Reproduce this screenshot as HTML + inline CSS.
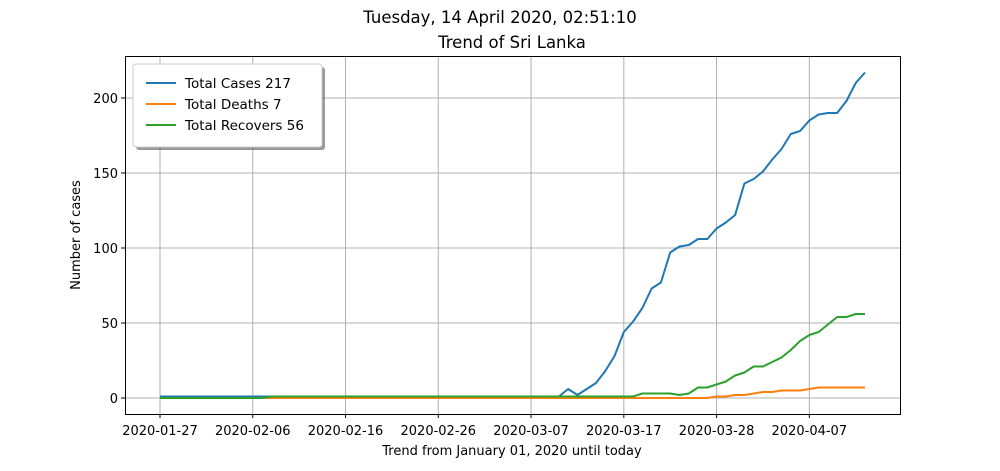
<!DOCTYPE html>
<html><head><meta charset="utf-8"><style>
body{margin:0;background:#fff;font-family:"Liberation Sans","DejaVu Sans",sans-serif;}
svg text{font-family:"DejaVu Sans","Liberation Sans",sans-serif;}
</style></head><body>
<svg id="chart" width="1000" height="466" xmlns="http://www.w3.org/2000/svg">
<text x="500" y="23" text-anchor="middle" font-size="16.5">Tuesday, 14 April 2020, 02:51:10</text>
<text x="512" y="48" text-anchor="middle" font-size="16.5">Trend of Sri Lanka</text>
<g id="grid"></g>
<g id="series"></g>
<rect x="125.5" y="56.5" width="775" height="358" fill="none" stroke="#000" stroke-width="1"/>
<g id="ticks"></g>
<text transform="translate(80,235) rotate(-90)" text-anchor="middle" font-size="13">Number of cases</text>
<text x="512" y="455" text-anchor="middle" font-size="13">Trend from January 01, 2020 until today</text>
<g>
<rect x="136" y="67" width="189" height="83" rx="3" fill="#555" opacity="0.6"/>
<rect x="133" y="64" width="189" height="83" rx="3" fill="#fff" stroke="#ccc"/>
<line x1="146" y1="83" x2="176" y2="83" stroke="#1f77b4" stroke-width="2"/>
<text x="185" y="88" font-size="13.5">Total Cases 217</text>
<line x1="146" y1="104" x2="176" y2="104" stroke="#ff7f0e" stroke-width="2"/>
<text x="185" y="109" font-size="13.5">Total Deaths 7</text>
<line x1="146" y1="125" x2="176" y2="125" stroke="#2ca02c" stroke-width="2"/>
<text x="185" y="130" font-size="13.5">Total Recovers 56</text>
</g>
</svg>
<script>
const N = 77;
const casesTail = [1,6,2,6,10,18,28,44,51,60,73,77,97,101,102,106,106,113,117,122,143,146,151,159,166,176,178,185,189,190,190,198,210,217]; // index 43..76
const recoverTail = [3,3,3,3,2,3,7,7,9,11,15,17,21,21,24,27,32,38,42,44,49,54,54,56,56]; // index 52..76
const deathTail = [1,1,2,2,3,4,4,5,5,5,6,7,7,7,7,7,7]; // index 60..76
const xTickLabels = ["2020-01-27","2020-02-06","2020-02-16","2020-02-26","2020-03-07","2020-03-17","2020-03-28","2020-04-07"];
const xTickIdx = [0,10,20,30,40,50,60,70];
const yTicks = [0,50,100,150,200];

const cases=[],deaths=[],recovers=[];
for(let i=0;i<N;i++){
  cases.push(i>=43?casesTail[i-43]:1);
  recovers.push(i>=52?recoverTail[i-52]:(i>=12?1:0));
  deaths.push(i>=60?deathTail[i-60]:0);
}
const X=i=>160+i*(705/76);
const Y=v=>398-v*1.5;
const NS="http://www.w3.org/2000/svg";
const grid=document.getElementById('grid'),ticks=document.getElementById('ticks'),ser=document.getElementById('series');
function mk(tag,attrs,parent){const e=document.createElementNS(NS,tag);for(const k in attrs)e.setAttribute(k,attrs[k]);parent.appendChild(e);return e;}
xTickIdx.forEach((ix,k)=>{
  const x=X(ix);
  const g=mk('line',{x1:x,x2:x,y1:56,y2:414,stroke:'#b0b0b0','stroke-width':1},grid);
  
  
  mk('line',{x1:x,x2:x,y1:414,y2:418,stroke:'#000'},ticks);
  const t=mk('text',{x:x,y:435,'text-anchor':'middle','font-size':13},ticks);
  t.textContent=xTickLabels[k];
  
  
});
yTicks.forEach(v=>{
  const y=Y(v);
  const g=mk('line',{x1:125,x2:900,y1:y,y2:y,stroke:'#b0b0b0','stroke-width':1},grid);
  
  
  mk('line',{x1:121,x2:125,y1:y,y2:y,stroke:'#000'},ticks);
  const t=mk('text',{x:118,y:y+5,'text-anchor':'end','font-size':13},ticks);
  t.textContent=String(v);
  
  
});
function line(data,color,name){
  const p=mk('polyline',{points:data.map((v,i)=>X(i)+','+Y(v)).join(' '),fill:'none',stroke:color,'stroke-width':2,'stroke-linejoin':'round'},ser);
  
  
}
line(cases,'#1f77b4','cases-line');
line(deaths,'#ff7f0e','deaths-line');
line(recovers,'#2ca02c','recovers-line');
</script>
</body></html>
